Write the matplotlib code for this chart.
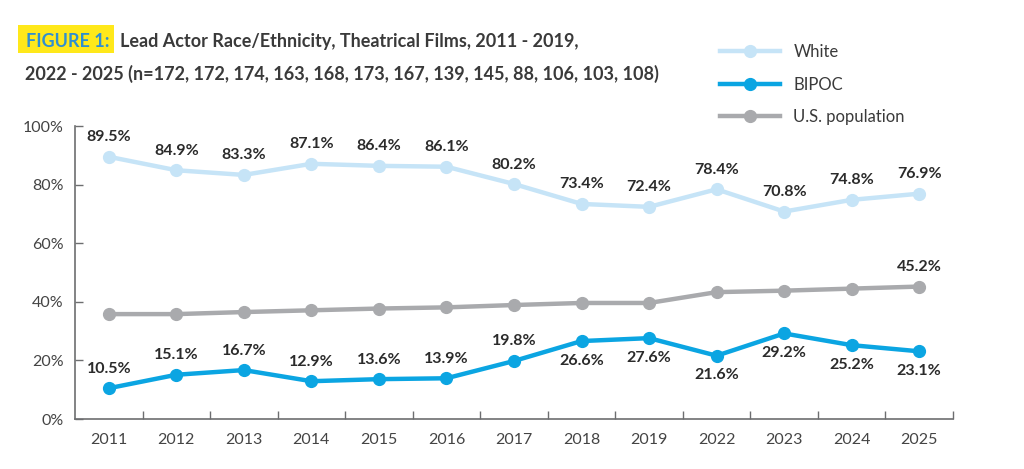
import matplotlib.pyplot as plt
from matplotlib.patches import Rectangle
import numpy as np

years = ['2011', '2012', '2013', '2014', '2015', '2016', '2017', '2018', '2019',
         '2022', '2023', '2024', '2025']
white = [89.5, 84.9, 83.3, 87.1, 86.4, 86.1, 80.2, 73.4, 72.4, 78.4, 70.8, 74.8, 76.9]
bipoc = [10.5, 15.1, 16.7, 12.9, 13.6, 13.9, 19.8, 26.6, 27.6, 21.6, 29.2, 25.2, 23.1]
us_pop = [35.8, 35.8, 36.5, 37.1, 37.7, 38.1, 38.9, 39.6, 39.6, 43.3, 43.8, 44.5, 45.2]

c_white = '#c6e4f7'
c_bipoc = '#0ba5e2'
c_pop = '#a9aaad'
c_text = '#2b2b2b'
c_axis = '#6d6e70'

plt.rcParams['font.family'] = ['Lato', 'DejaVu Sans']

fig = plt.figure(figsize=(10.24, 4.69), dpi=100)
ax = fig.add_axes([75 / 1024, 50 / 469, 878 / 1024, 293 / 469])

x = np.arange(len(years))
ax.plot(x, white, color=c_white, lw=3.2, marker='o', ms=8.5, label='White', zorder=3)
ax.plot(x, bipoc, color=c_bipoc, lw=3.2, marker='o', ms=8.5, label='BIPOC', zorder=3)
ax.plot(x, us_pop, color=c_pop, lw=3.2, marker='o', ms=8.5, label='U.S. population', zorder=3)

# point labels
lab = dict(textcoords='offset points', ha='center', fontsize=11.5, fontweight='bold', color=c_text)
for i, v in enumerate(white):
    ax.annotate(f'{v}%', (i, v), xytext=(0, 9), va='bottom', **lab)
for i, v in enumerate(bipoc):
    if i < 7:
        ax.annotate(f'{v}%', (i, v), xytext=(0, 9), va='bottom', **lab)
    else:
        ax.annotate(f'{v}%', (i, v), xytext=(0, -9), va='top', **lab)
ax.annotate(f'{us_pop[-1]}%', (x[-1], us_pop[-1]), xytext=(0, 9), va='bottom', **lab)

ax.set_xlim(-0.5, len(years) - 0.5)
ax.set_ylim(0, 100)
ax.set_yticks(range(0, 101, 20))
ax.set_yticklabels([f'{t}%' for t in range(0, 101, 20)])
ax.set_xticks(x)
ax.set_xticklabels(years)
ax.set_xticks(np.arange(0.5, len(years) - 0.4, 1), minor=True)
ax.tick_params(axis='x', which='major', length=0, pad=10, labelsize=11.5, labelcolor='#444444')
ax.tick_params(axis='x', which='minor', direction='in', length=6, color=c_axis, width=1)
ax.tick_params(axis='y', direction='in', length=6, color=c_axis, width=1, pad=8,
               labelsize=11.5, labelcolor='#444444')
for s in ['top', 'right']:
    ax.spines[s].set_visible(False)
for s in ['left', 'bottom']:
    ax.spines[s].set_color(c_axis)
    ax.spines[s].set_linewidth(1.2)

leg = fig.legend(loc='upper left', bbox_to_anchor=(705 / 1024, 1 - 29 / 469), frameon=False,
                 fontsize=12, handlelength=3.6, labelspacing=1.0, handletextpad=0.8)
for t in leg.get_texts():
    t.set_color('#3a3a3a')

# title with highlighted figure number
fig.patches.append(Rectangle((18 / 1024, 1 - 53 / 469), 96 / 1024, 28 / 469,
                             transform=fig.transFigure, facecolor='#ffe81a', edgecolor='none'))
fig.text(26 / 1024, 1 - 47 / 469, 'FIGURE 1:', fontsize=13, fontweight='bold', color='#2f8fd0',
         va='baseline', ha='left')
fig.text(120 / 1024, 1 - 47 / 469, 'Lead Actor Race/Ethnicity, Theatrical Films, 2011 - 2019,',
         fontsize=13, fontweight='bold', color='#3a3a3a', va='baseline', ha='left')
fig.text(25 / 1024, 1 - 80 / 469,
         '2022 - 2025 (n=172, 172, 174, 163, 168, 173, 167, 139, 145, 88, 106, 103, 108)',
         fontsize=13, fontweight='bold', color='#3a3a3a', va='baseline', ha='left')

fig.savefig('out.png', dpi=100)
